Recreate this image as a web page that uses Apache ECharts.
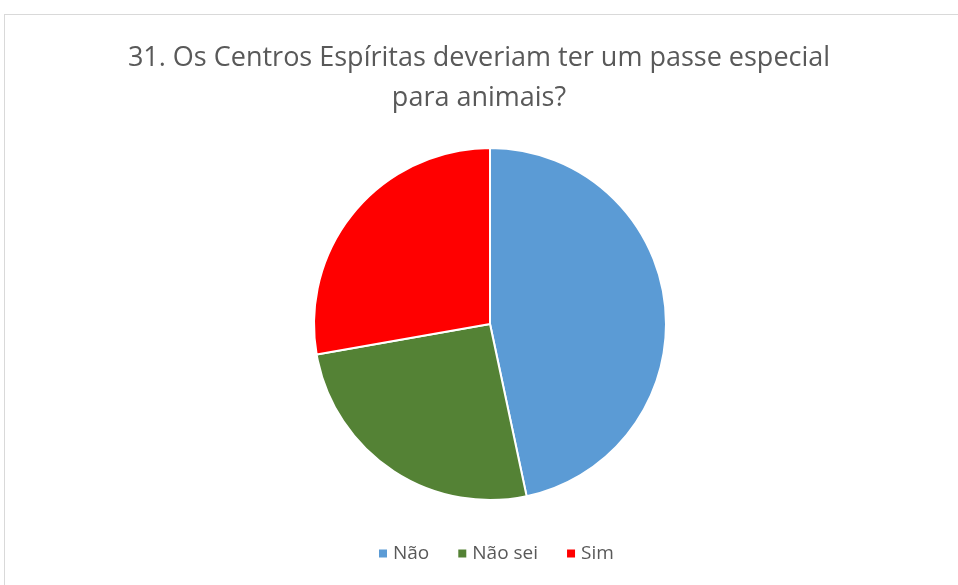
<!DOCTYPE html>
<html><head><meta charset="utf-8">
<script src="https://cdn.jsdelivr.net/npm/echarts@6/dist/echarts.min.js"></script>
<style>
html,body{margin:0;padding:0;background:#fff;}
#frame{position:absolute;left:4px;top:14px;width:960px;height:580px;border-left:1px solid #d9d9d9;border-top:1px solid #d9d9d9;}
#c{position:absolute;left:0;top:0;width:958px;height:585px;}
</style></head>
<body>
<div id="frame"></div>
<div id="c"></div>
<script>
const titleText = "31. Os Centros Espíritas deveriam ter um passe especial\npara animais?";
const categories = ["Não", "Não sei", "Sim"];
const values = [42, 23, 25];
const colors = ["#5B9BD5", "#548235", "#FF0000"];

const chart = echarts.init(document.getElementById('c'), null, {renderer:'canvas'});
chart.setOption({
  animation:false,
  title:{
    text:titleText, left:'center', top:33,
    textStyle:{fontFamily:'Open Sans', fontWeight:'normal', fontSize:27, color:'#595959', lineHeight:40}
  },
  legend:{
    bottom:17, left:372, itemWidth:10, itemHeight:10, itemGap:27, icon:'rect',
    textStyle:{fontFamily:'Open Sans', fontSize:19, color:'#595959'},
    data:categories
  },
  series:[{
    type:'pie', center:[490,324], radius:176, startAngle:90, clockwise:true,
    label:{show:false}, labelLine:{show:false},
    itemStyle:{borderColor:'#fff', borderWidth:2},
    emphasis:{disabled:true},
    data:categories.map((c,i)=>({name:c, value:values[i], itemStyle:{color:colors[i]}}))
  }]
});
</script></body></html>
